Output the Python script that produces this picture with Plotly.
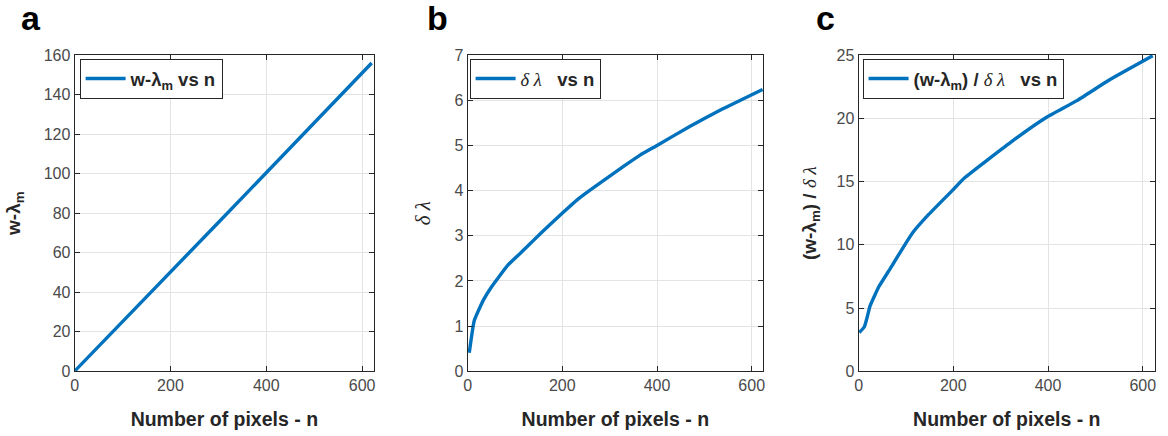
import plotly.graph_objects as go

# ---- data ----
n_a = [1, 50, 100, 150, 200, 250, 300, 350, 400, 450, 500, 550, 620]
w_lm = [0.3, 12.5, 25.2, 37.7, 50.3, 62.8, 75.3, 87.9, 100.4, 112.9, 125.5, 138.0, 156.0]

n_b = [3.5, 14, 33, 50, 85, 120, 155, 198, 232, 260, 330, 365, 400, 469, 539, 623]
dlam = [0.41, 1.12, 1.57, 1.86, 2.35, 2.7, 3.06, 3.48, 3.8, 4.02, 4.54, 4.79, 5.0, 5.42, 5.81, 6.24]

n_c = [1.4, 12, 19, 24, 43, 64, 113, 148, 198, 224, 321, 397, 461, 530, 621]
ratio = [3.07, 3.5, 4.4, 5.15, 6.7, 7.95, 10.9, 12.4, 14.3, 15.3, 18.1, 20.08, 21.4, 23.05, 24.95]

x_ticks = [0, 200, 400, 600]
ya_ticks = [0, 20, 40, 60, 80, 100, 120, 140, 160]
yb_ticks = [0, 1, 2, 3, 4, 5, 6, 7]
yc_ticks = [0, 5, 10, 15, 20, 25]

BLUE = "#0072BD"
AX = "#262626"
TICKC = "#4a4a4a"
GRID = "#e3e3e3"
SANS = "Arial, Liberation Sans, sans-serif"
SERIF = "Liberation Serif, DejaVu Serif, serif"

W, H = 1168, 436
def px(x):
    return x / W
def py(y):
    return 1 - y / H

dom_x = [(px(71), px(372)), (px(466), px(763)), (px(859), px(1157))]
dom_y = (py(378), py(49))

greek = lambda s: f"<span style='font-family:{SERIF};font-weight:normal'><i>{s}</i></span>"

fig = go.Figure()
fig.add_trace(go.Scatter(x=n_a, y=w_lm, mode="lines", line=dict(color=BLUE, width=3.4),
                         name="<b>w-λ<sub>m</sub> vs n</b>", xaxis="x", yaxis="y", legend="legend"))
fig.add_trace(go.Scatter(x=n_b, y=dlam, mode="lines", line=dict(color=BLUE, width=3.4, shape="spline", smoothing=0.4),
                         name=greek("δ λ") + "   <b>vs n</b>", xaxis="x2", yaxis="y2", legend="legend2"))
fig.add_trace(go.Scatter(x=n_c, y=ratio, mode="lines", line=dict(color=BLUE, width=3.4, shape="spline", smoothing=0.4),
                         name="<b>(w-λ<sub>m</sub>) / </b>" + greek("δ λ") + "   <b>vs n</b>",
                         xaxis="x3", yaxis="y3", legend="legend3"))

def axis_common():
    return dict(showline=True, linecolor=AX, linewidth=1, mirror="ticks", ticks="inside",
                ticklen=5, tickcolor=AX, showgrid=True, gridcolor=GRID, gridwidth=1,
                zeroline=False, tickfont=dict(family=SANS, size=16, color=TICKC))

xtitle = dict(text="<b>Number of pixels - n</b>", font=dict(family=SANS, size=19.5, color=AX), standoff=18)

layout = dict(width=W, height=H, margin=dict(l=0, r=0, t=0, b=0),
              paper_bgcolor="white", plot_bgcolor="white", showlegend=True)

ranges_x = [[0, 625], [0, 624], [0, 626]]
ranges_y = [[0, 160], [0, 7], [0, 25]]
yticks = [ya_ticks, yb_ticks, yc_ticks]
ytitles = ["<b>w-λ<sub>m</sub></b>",
           greek("δ λ"),
           "<b>(w-λ<sub>m</sub>) / </b>" + greek("δ λ")]
ysizes = [19, 21, 19]
ystand = [18, 18, 14]
suffix = ["", "2", "3"]
for i in range(3):
    xa = axis_common()
    xa.update(domain=list(dom_x[i]), range=ranges_x[i], tickvals=x_ticks, title=xtitle,
              anchor="y" + suffix[i])
    ya = axis_common()
    ya.update(domain=list(dom_y), range=ranges_y[i], tickvals=yticks[i],
              title=dict(text=ytitles[i], font=dict(family=SANS, size=ysizes[i], color=AX),
                         standoff=ystand[i]),
              anchor="x" + suffix[i])
    layout["xaxis" + suffix[i]] = xa
    layout["yaxis" + suffix[i]] = ya

leg_pos = [(76, 53), (468, 53), (863, 53)]
for i, (lx, ly) in enumerate(leg_pos):
    layout["legend" + suffix[i]] = dict(x=px(lx), y=py(ly), xanchor="left", yanchor="top",
                                         bgcolor="white", bordercolor=AX, borderwidth=1,
                                         font=dict(family=SANS, size=18.5, color=AX),
                                         itemwidth=40, tracegroupgap=0)

fig.update_layout(**layout)

for letter, lx in [("a", 15), ("b", 423), ("c", 814)]:
    fig.add_annotation(text=f"<b>{letter}</b>", x=px(lx), y=1.0, xref="paper", yref="paper",
                       xanchor="left", yanchor="top", showarrow=False, yshift=11,
                       font=dict(family=SANS, size=34, color="black"))

fig.write_html("out.html")
